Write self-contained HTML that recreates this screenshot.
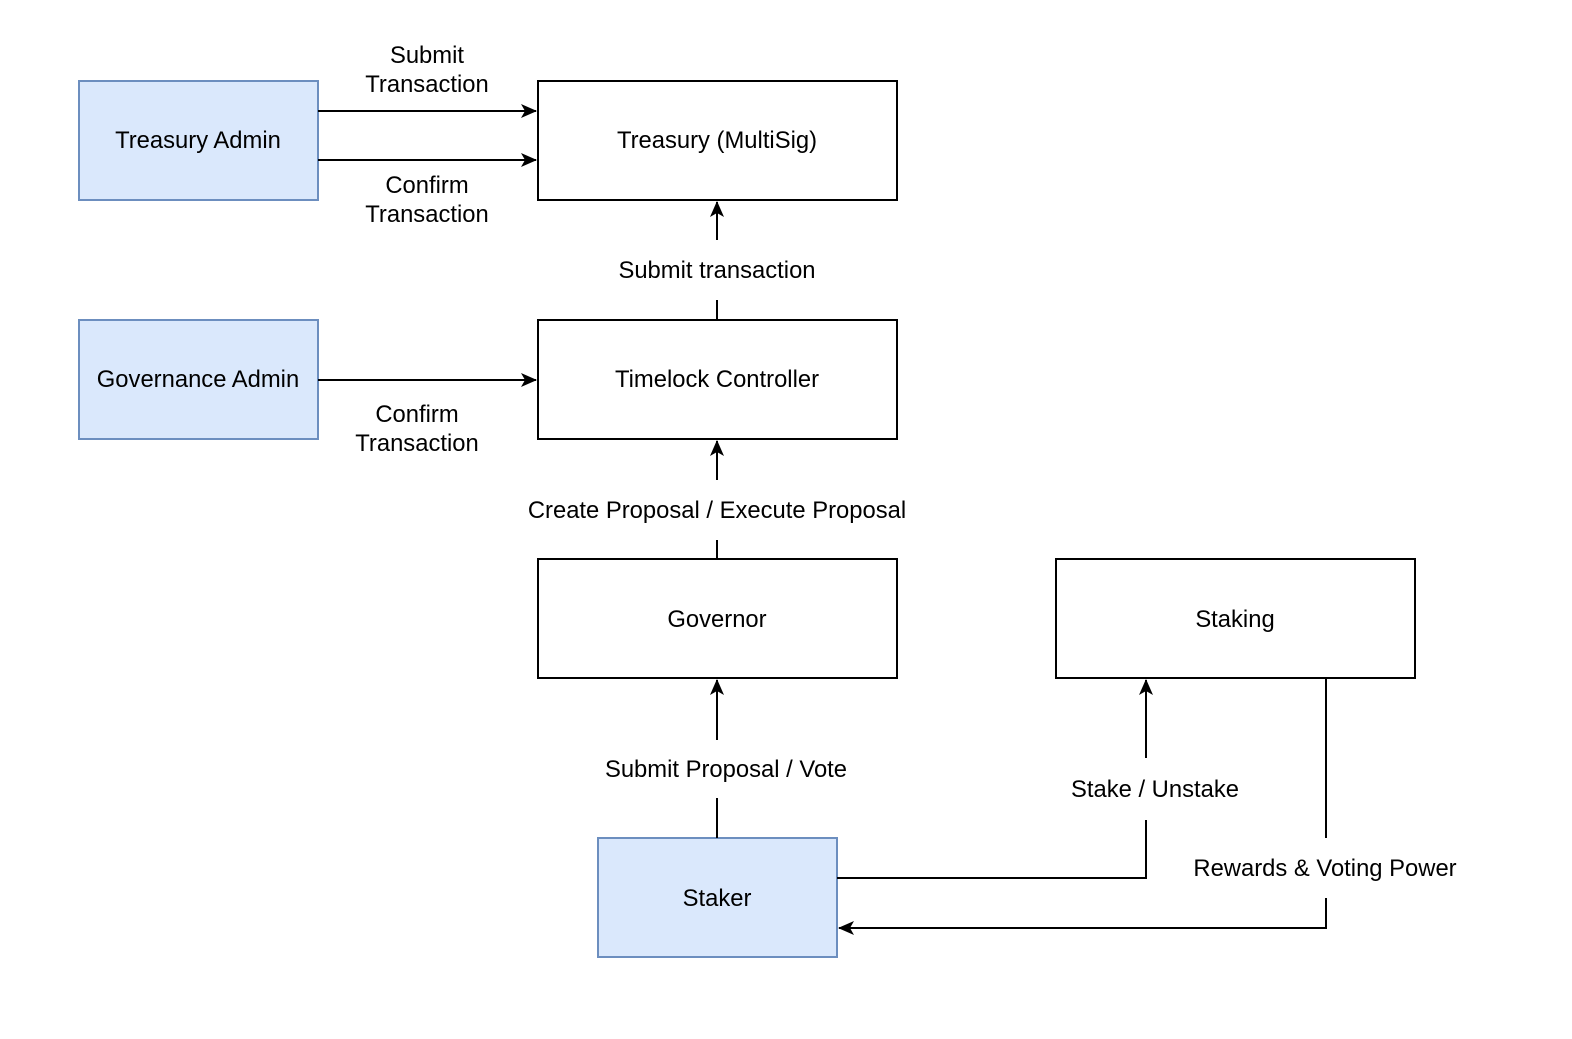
<!DOCTYPE html>
<html><head><style>body{margin:0;background:#fff}</style></head><body>
<svg width="1572" height="1034" viewBox="0 0 1572 1034" xmlns="http://www.w3.org/2000/svg" font-family="Liberation Sans, Arial, sans-serif" font-size="23.8">
<defs>
<marker id="b" viewBox="0 0 16 16" refX="15" refY="8" markerWidth="16" markerHeight="16" markerUnits="userSpaceOnUse" orient="auto"><path d="M0,1 L16,8 L0,15 L4,8 z" fill="#000"/></marker></defs>
<g stroke-width="2">
<rect x="79" y="81" width="239" height="119" fill="#dae8fc" stroke="#6c8ebf"/>
<rect x="79" y="320" width="239" height="119" fill="#dae8fc" stroke="#6c8ebf"/>
<rect x="598" y="838" width="239" height="119" fill="#dae8fc" stroke="#6c8ebf"/>
<rect x="538" y="81" width="359" height="119" fill="#fff" stroke="#000"/>
<rect x="538" y="320" width="359" height="119" fill="#fff" stroke="#000"/>
<rect x="538" y="559" width="359" height="119" fill="#fff" stroke="#000"/>
<rect x="1056" y="559" width="359" height="119" fill="#fff" stroke="#000"/>
</g>
<g stroke="#000" stroke-width="2" fill="none">
<path d="M318 111H536" marker-end="url(#b)"/>
<path d="M318 160H536" marker-end="url(#b)"/>
<path d="M318 380H536" marker-end="url(#b)"/>
<path d="M717 320V300M717 240V202" marker-end="url(#b)"/>
<path d="M717 559V540M717 480V441" marker-end="url(#b)"/>
<path d="M717 838V798M717 740V680" marker-end="url(#b)"/>
<path d="M837 878H1146V820M1146 758V680" marker-end="url(#b)"/>
<path d="M1326 678V838M1326 898V928H839" marker-end="url(#b)"/>
</g>
<g text-anchor="middle" fill="#000">
<text x="198" y="148">Treasury Admin</text>
<text x="198" y="387">Governance Admin</text>
<text x="717" y="906">Staker</text>
<text x="717" y="148">Treasury (MultiSig)</text>
<text x="717" y="387">Timelock Controller</text>
<text x="717" y="627">Governor</text>
<text x="1235" y="627">Staking</text>
<text x="427" y="63">Submit</text><text x="427" y="92">Transaction</text>
<text x="427" y="193">Confirm</text><text x="427" y="222">Transaction</text>
<text x="417" y="422">Confirm</text><text x="417" y="451">Transaction</text>
<text x="717" y="278">Submit transaction</text>
<text x="717" y="518">Create Proposal / Execute Proposal</text>
<text x="726" y="777">Submit Proposal / Vote</text>
<text x="1155" y="797">Stake / Unstake</text>
<text x="1325" y="876">Rewards &amp; Voting Power</text>
</g>
</svg>
</body></html>
